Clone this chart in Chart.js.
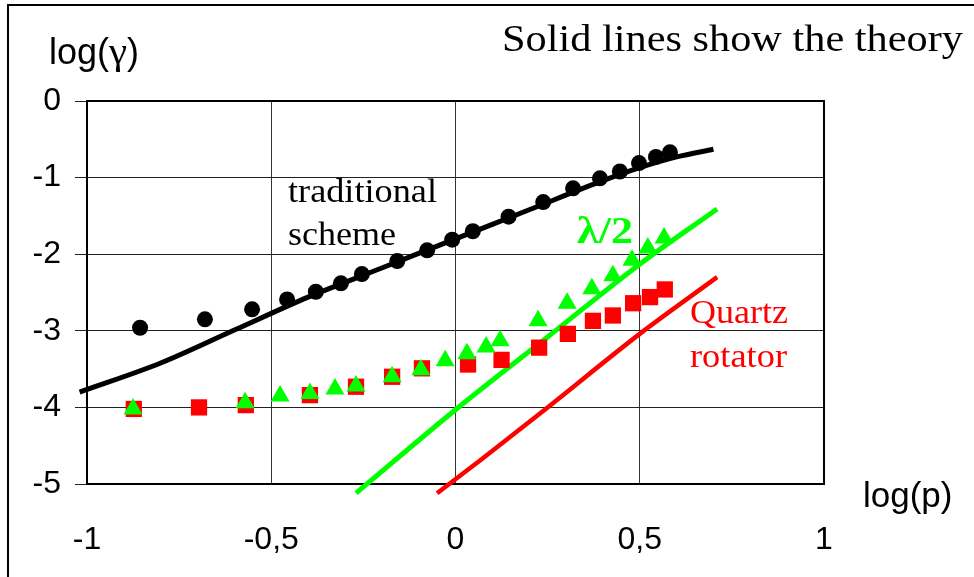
<!DOCTYPE html>
<html>
<head>
<meta charset="utf-8">
<script src="https://cdn.jsdelivr.net/npm/chart.js@4.4.1/dist/chart.umd.min.js"></script>
<style>
  html, body { margin: 0; padding: 0; background: #fff; }
  #wrap { width: 974px; height: 577px; }
</style>
</head>
<body>
<div id="wrap"><canvas id="chart" width="974" height="577"></canvas></div>
<script>
// Measured points, log(p) vs log(gamma)
const tradX = [-0.856, -0.680, -0.552, -0.457, -0.379, -0.311, -0.254, -0.158, -0.077, -0.009, 0.047, 0.144, 0.238, 0.319, 0.392, 0.446, 0.498, 0.544, 0.582];
const tradY = [-2.96, -2.85, -2.72, -2.59, -2.49, -2.38, -2.26, -2.09, -1.95, -1.81, -1.70, -1.51, -1.32, -1.14, -1.01, -0.92, -0.81, -0.73, -0.67];

const halfX = [-0.875, -0.571, -0.476, -0.395, -0.327, -0.270, -0.172, -0.094, -0.028, 0.031, 0.083, 0.121, 0.224, 0.303, 0.370, 0.427, 0.479, 0.522, 0.566];
const halfY = [-4.02, -3.94, -3.85, -3.82, -3.76, -3.72, -3.60, -3.51, -3.39, -3.30, -3.21, -3.13, -2.87, -2.64, -2.45, -2.28, -2.08, -1.92, -1.79];

const quartzX = [-0.873, -0.696, -0.569, -0.395, -0.270, -0.172, -0.091, 0.034, 0.125, 0.227, 0.305, 0.373, 0.427, 0.482, 0.528, 0.568];
const quartzY = [-4.02, -4.00, -3.97, -3.84, -3.73, -3.60, -3.49, -3.44, -3.38, -3.22, -3.04, -2.87, -2.80, -2.64, -2.56, -2.46];

// Theory curves (solid lines)
const tradTheoryX = [-1.02, -0.80, -0.60, -0.40, -0.20, 0, 0.20, 0.40, 0.50, 0.60, 0.70];
const tradTheoryY = [-3.80, -3.42, -2.99, -2.56, -2.18, -1.80, -1.42, -1.04, -0.87, -0.73, -0.63];

const halfTheoryX = [-0.27, 0, 0.25, 0.50, 0.71];
const halfTheoryY = [-5.12, -4.03, -3.08, -2.13, -1.41];

const quartzTheoryX = [-0.05, 0.07, 0.25, 0.50, 0.71];
const quartzTheoryY = [-5.12, -4.68, -4.00, -3.04, -2.30];

const xTicks = [-1, -0.5, 0, 0.5, 1];
const yTicks = [0, -1, -2, -3, -4, -5];

const pts = (xs, ys) => xs.map((x, i) => ({ x: x, y: ys[i] }));

const SANS = '"Liberation Sans", Arial, sans-serif';
const SERIF = '"Liberation Serif", "Times New Roman", serif';

// Free text on the figure (pixel placement, baseline y); parts are drawn one after another
const notes = [
    { x: 502, y: 51, color: '#000', parts: [{ text: 'Solid lines show the theory', font: '38px ' + SERIF, width: 461 }] },
    { x: 49, y: 64, color: '#000', parts: [
        { text: 'log(', font: '36px ' + SANS },
        { text: '\u03b3', font: '38px ' + SERIF, width: 18 },
        { text: ')', font: '36px ' + SANS }
    ] },
    { x: 863, y: 507, color: '#000', parts: [{ text: 'log(p)', font: '35px ' + SANS }] },
    { x: 288, y: 202, color: '#000', parts: [{ text: 'traditional', font: '33px ' + SERIF, width: 149 }] },
    { x: 288, y: 245, color: '#000', parts: [{ text: 'scheme', font: '33px ' + SERIF, width: 108 }] },
    { x: 577, y: 243, color: '#00ff00', parts: [{ text: '\u03bb/2', font: 'bold 37px ' + SERIF, width: 56 }] },
    { x: 690, y: 323, color: '#ff0000', parts: [{ text: 'Quartz', font: '33px ' + SERIF, width: 98 }] },
    { x: 690, y: 367, color: '#ff0000', parts: [{ text: 'rotator', font: '33px ' + SERIF, width: 97 }] }
];

const decor = {
    id: 'decor',
    beforeDraw(chart) {
        const ctx = chart.ctx;
        ctx.save();
        ctx.fillStyle = '#fff';
        ctx.fillRect(0, 0, chart.width, chart.height);
        ctx.strokeStyle = '#000';
        ctx.lineWidth = 2;
        ctx.beginPath();
        ctx.moveTo(8, chart.height);
        ctx.lineTo(8, 5);
        ctx.lineTo(chart.width, 5);
        ctx.stroke();
        ctx.restore();
    },
    beforeDatasetsDraw(chart) {
        const a = chart.chartArea;
        const ctx = chart.ctx;
        ctx.save();
        ctx.strokeStyle = '#000';
        ctx.lineWidth = 2;
        ctx.strokeRect(a.left, a.top, a.right - a.left, a.bottom - a.top);
        ctx.restore();
    },
    afterDraw(chart) {
        const ctx = chart.ctx;
        notes.forEach(n => {
            let x = n.x;
            n.parts.forEach(p => {
                ctx.save();
                ctx.font = p.font;
                ctx.fillStyle = n.color;
                ctx.textBaseline = 'alphabetic';
                ctx.textAlign = 'left';
                const w = ctx.measureText(p.text).width;
                const sx = p.width ? p.width / w : 1;
                ctx.translate(x, n.y);
                ctx.scale(sx, 1);
                ctx.fillText(p.text, 0, 0);
                ctx.restore();
                x += w * sx;
            });
        });
    }
};

const tickFont = { family: SANS, size: 32 };

new Chart(document.getElementById('chart').getContext('2d'), {
    type: 'scatter',
    data: {
        datasets: [
            { label: 'traditional', data: pts(tradX, tradY), pointStyle: 'circle', pointRadius: 8,
              backgroundColor: '#000', borderColor: '#000', borderWidth: 0 },
            { label: 'lambda/2', data: pts(halfX, halfY), pointStyle: 'triangle', pointRadius: 11,
              backgroundColor: '#00ff00', borderColor: '#00ff00', borderWidth: 0 },
            { label: 'quartz', data: pts(quartzX, quartzY), pointStyle: 'rect', pointRadius: 11.5,
              backgroundColor: '#ff0000', borderColor: '#ff0000', borderWidth: 0 },
            { label: 'traditional theory', data: pts(tradTheoryX, tradTheoryY), showLine: true, pointRadius: 0,
              borderColor: '#000', borderWidth: 5, cubicInterpolationMode: 'monotone', clip: false },
            { label: 'lambda/2 theory', data: pts(halfTheoryX, halfTheoryY), showLine: true, pointRadius: 0,
              borderColor: '#00ff00', borderWidth: 5, cubicInterpolationMode: 'monotone', clip: false },
            { label: 'quartz theory', data: pts(quartzTheoryX, quartzTheoryY), showLine: true, pointRadius: 0,
              borderColor: '#ff0000', borderWidth: 4.5, cubicInterpolationMode: 'monotone', clip: false }
        ]
    },
    options: {
        responsive: false,
        animation: false,
        events: [],
        layout: { padding: { left: 0, right: 150, top: 101, bottom: 0 } },
        plugins: { legend: { display: false }, tooltip: { enabled: false } },
        scales: {
            x: {
                type: 'linear',
                min: -1,
                max: 1,
                afterBuildTicks: s => { s.ticks = xTicks.map(v => ({ value: v })); },
                afterFit: s => { s.height = 93; },
                grid: { color: '#333', lineWidth: 1, drawTicks: false },
                border: { display: false },
                ticks: {
                    color: '#000',
                    font: tickFont,
                    padding: 37,
                    maxRotation: 0,
                    callback: v => String(v).replace('.', ',')
                }
            },
            y: {
                type: 'linear',
                min: -5,
                max: 0,
                afterBuildTicks: s => { s.ticks = yTicks.map(v => ({ value: v })); },
                afterFit: s => { s.width = 87; },
                grid: { color: '#222', lineWidth: 1, drawTicks: true, tickLength: 12 },
                border: { display: false },
                ticks: { color: '#000', font: tickFont, padding: 14 }
            }
        }
    },
    plugins: [decor]
});
</script>
</body>
</html>
